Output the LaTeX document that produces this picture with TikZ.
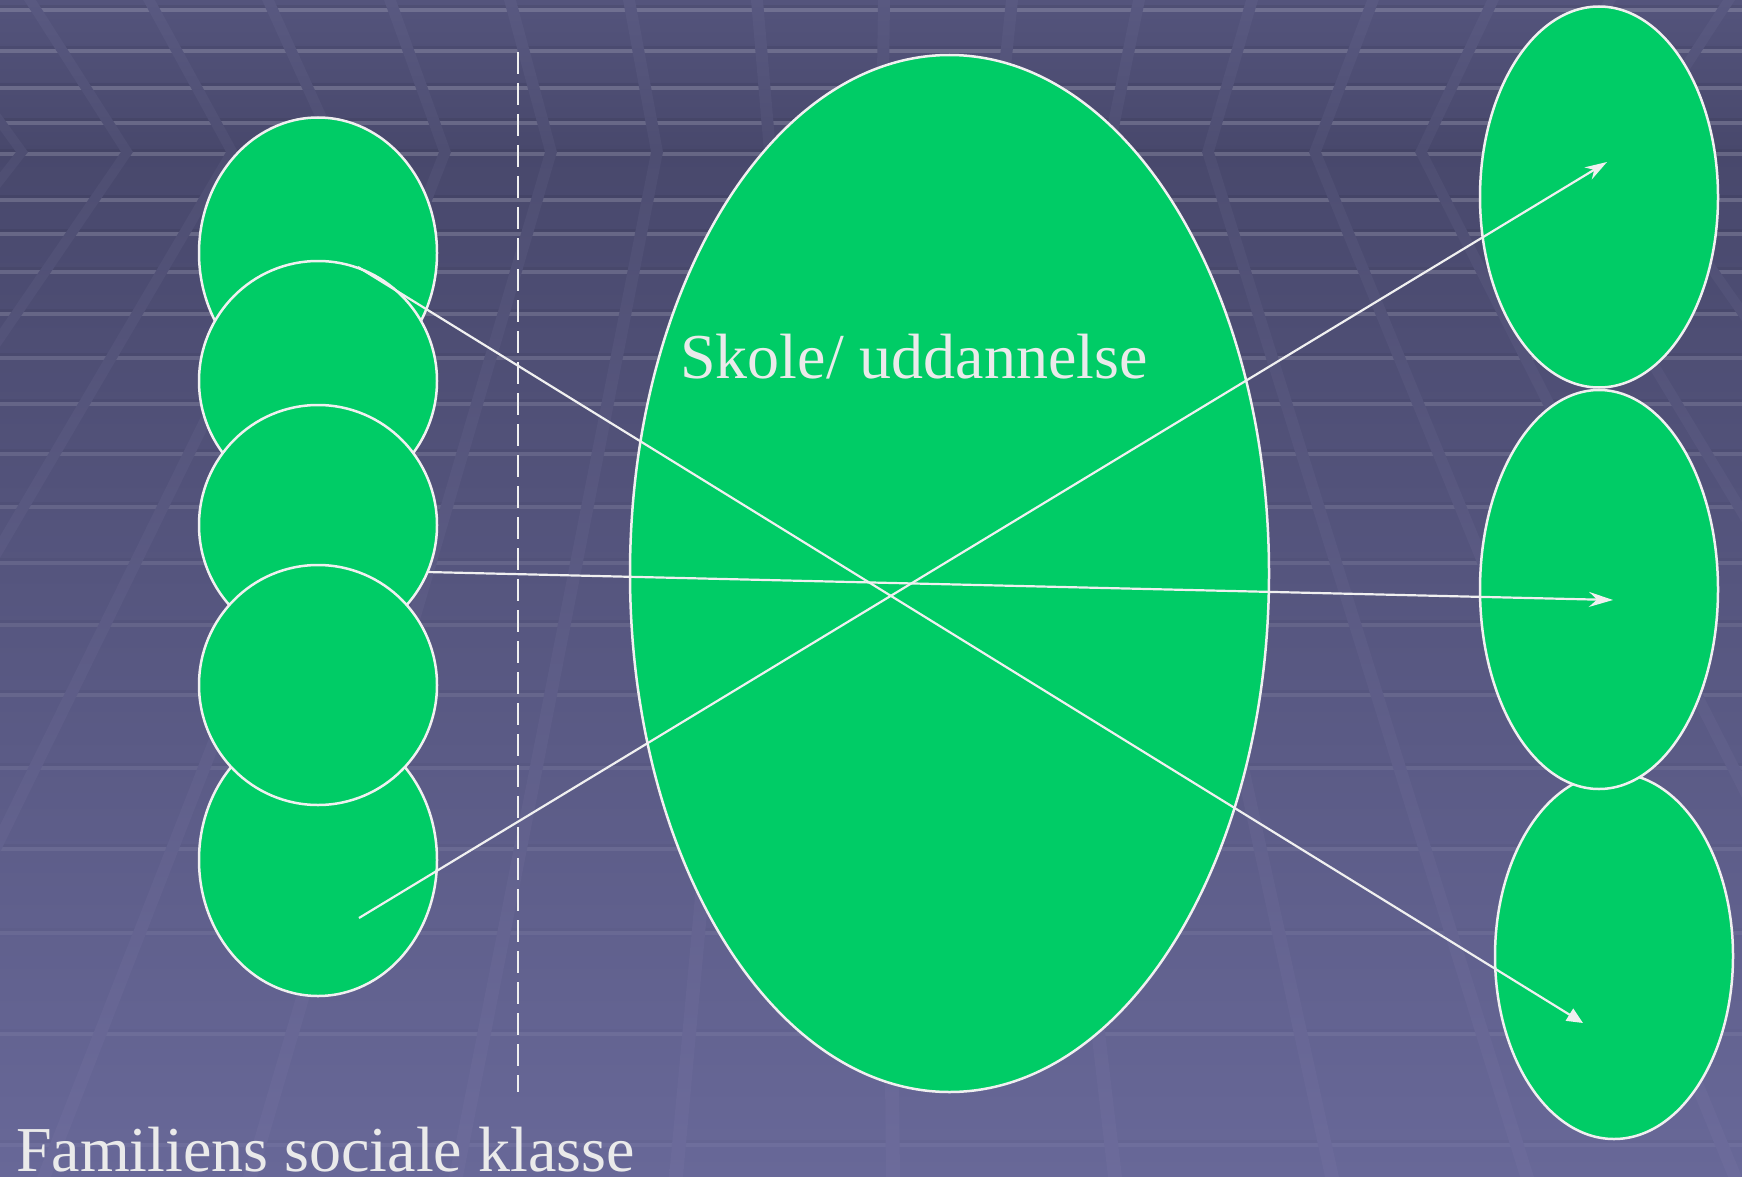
\documentclass[tikz,border=0pt]{standalone}
\usepackage{fontspec}
\setmainfont{Liberation Serif}
\usetikzlibrary{arrows.meta,shapes.geometric}

\definecolor{bgtop}{RGB}{84,84,124}
\definecolor{bgmid}{RGB}{72,72,108}
\definecolor{bgbot}{RGB}{104,104,152}
\definecolor{sttop}{RGB}{89,89,129}
\definecolor{stmid}{RGB}{78,78,114}
\definecolor{stbot}{RGB}{108,107,155}
\definecolor{blobgreen}{RGB}{0,204,102}
\definecolor{chalk}{RGB}{240,240,240}
\definecolor{slidetext}{RGB}{234,234,234}

\pgfdeclareverticalshading{slidebg}{100bp}{color(0bp)=(bgbot); color(25bp)=(bgbot); color(68.6bp)=(bgmid); color(75bp)=(bgtop); color(100bp)=(bgtop)}
\pgfdeclareverticalshading{stripebg}{100bp}{color(0bp)=(stbot); color(25bp)=(stbot); color(68.6bp)=(stmid); color(75bp)=(sttop); color(100bp)=(sttop)}

\def\floorline(#1:#2){\draw[line width=3pt, black, opacity=#2/3] (0,#1-3.5) -- (1742,#1-3.5); \draw[line width=4.5pt, white, opacity=#2] (0,#1) -- (1742,#1);}
\def\wallstripe(#1:#2:#3){\shade[shading=stripebg] (#1-6,0) -- (#2-6,152) -- (#3-7,1177) -- (#3+7,1177) -- (#2+6,152) -- (#1+6,0) -- cycle;}

\tikzset{
	blob/.style={ellipse, draw=chalk, fill=blobgreen, line width=2.5pt, inner sep=0pt},
	flow/.style={draw=chalk, line width=2.2pt},
	slidelabel/.style={text=slidetext, font=\fontsize{64}{70}\selectfont, inner sep=0pt}
}

\begin{document}
\begin{tikzpicture}[x=1pt, y=-1pt]
		%%%%% START %%%%%
		
		\useasboundingbox (0,0) rectangle (1742,1177);
		\shade[shading=slidebg] (0,0) rectangle (1742,1177);
		
		\floorline(10:0.17)
		\floorline(51:0.17)
		\floorline(88:0.17)
		\floorline(123:0.17)
		\floorline(154:0.17)
		\floorline(200:0.17)
		\floorline(234:0.16)
		\floorline(272:0.15)
		\floorline(314:0.14)
		\floorline(358:0.13)
		\floorline(404:0.12)
		\floorline(454:0.11)
		\floorline(507:0.10)
		\floorline(563:0.09)
		\floorline(625:0.08)
		\floorline(695:0.08)
		\floorline(768:0.07)
		\floorline(849:0.07)
		\floorline(933:0.06)
		\floorline(1034:0.06)
		\floorline(1145:0.05)
		
		\wallstripe(-88:22:-778)
		\wallstripe(30:127:-574)
		\wallstripe(149:232:-370)
		\wallstripe(268:337:-166)
		\wallstripe(390:445:44)
		\wallstripe(510:551:250)
		\wallstripe(629:657:456)
		\wallstripe(757:770:676)
		\wallstripe(884:882:893)
		\wallstripe(1012:996:1115)
		\wallstripe(1139:1108:1332)
		\wallstripe(1252:1208:1527)
		\wallstripe(1373:1315:1735)
		\wallstripe(1493:1421:1941)
		\wallstripe(1610:1525:2143)
		\wallstripe(1729:1630:2347)
		
		% family circles
		\node[blob, minimum width=238, minimum height=271] (fam1) at (318,253) {};
		\node[blob, minimum width=238, minimum height=240] (fam2) at (318,381) {};
		\node[blob, minimum width=238, minimum height=240] (fam3) at (318,525) {};
		\node[blob, minimum width=238, minimum height=272] (fam5) at (318,860) {};
		\node[blob, minimum width=238, minimum height=240] (fam4) at (318,685) {};
		
		\draw[chalk, line width=2.5pt, dash pattern=on 22pt off 9pt] (518,52) -- (518,1092);
		
		% school
		\node[blob, minimum width=639, minimum height=1037] (skole) at (949.5,573.5) {};
		\node[slidelabel, anchor=base west] (skolelabel) at (680,378) {Skole/ uddannelse};
		
		% outcomes
		\node[blob, minimum width=238, minimum height=381] (job1) at (1599,197) {};
		\node[blob, minimum width=238, minimum height=366] (job3) at (1614,956) {};
		\node[blob, minimum width=238, minimum height=399] (job2) at (1599,589.5) {};
		
		\coordinate (up) at (358,267);
		\coordinate (mid) at (427,572);
		\coordinate (low) at (359,918);
		\coordinate (upend) at (1607,162);
		\coordinate (midend) at (1613,600);
		\coordinate (lowend) at (1583,1023);
		
		\draw[flow, -{Triangle[length=16pt, width=14pt]}] (up) -- (lowend);
		\draw[flow, -{Stealth[length=24pt, width=15pt, inset=8pt]}] (mid) -- (midend);
		\draw[flow, -{Stealth[length=22pt, width=14pt, inset=7pt]}] (low) -- (upend);
		
		\node[slidelabel, anchor=base west, text depth=0pt] (familielabel) at (16,1171) {Familiens sociale klasse};
		
		%%%%% END %%%%%
	\end{tikzpicture}
\end{document}
